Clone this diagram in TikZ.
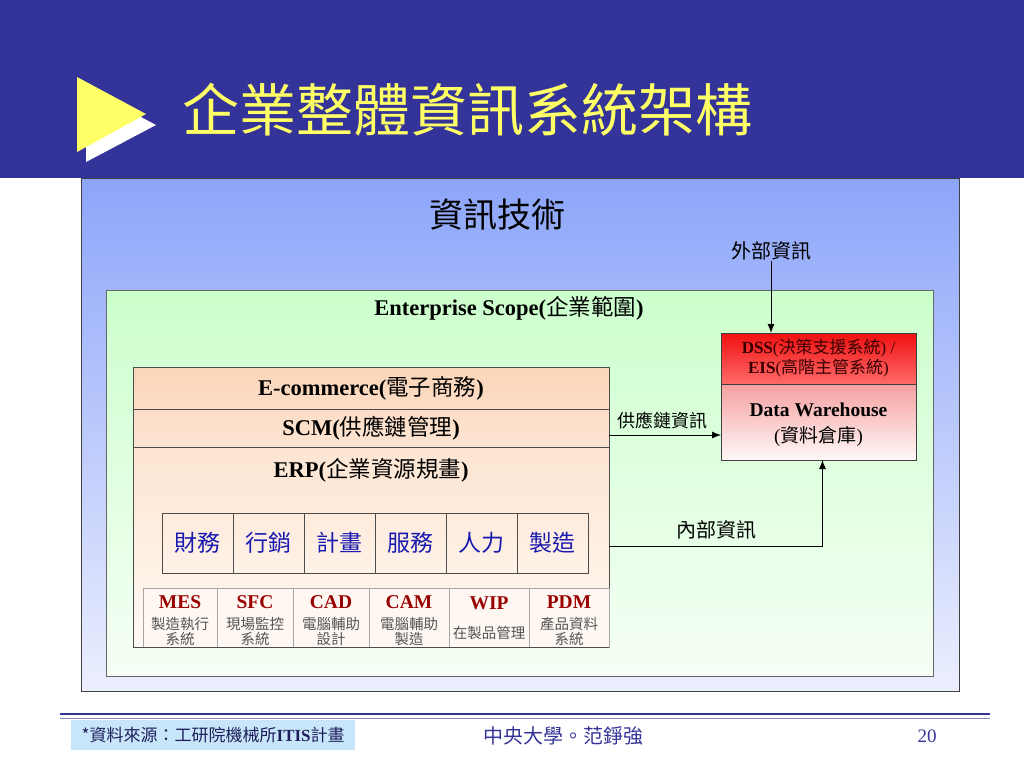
\documentclass[tikz,border=0pt]{standalone}
\usepackage{fontspec}
\setmainfont{Liberation Serif}
\newfontfamily\zhfont{Noto Sans CJK TC}
\newcommand\zh[1]{{\zhfont\mdseries #1}}
\usetikzlibrary{positioning,arrows.meta}
\definecolor{hdblue}{HTML}{333399}
\definecolor{tiyellow}{HTML}{FFFF66}
\definecolor{itblueA}{HTML}{8CA5F9}
\definecolor{itblueB}{HTML}{ECEFFE}
\definecolor{entgreenA}{HTML}{CCFFCC}
\definecolor{entgreenB}{HTML}{F6FFF6}
\definecolor{peachA}{HTML}{FBD5B8}
\definecolor{peachB}{HTML}{FCDDC6}
\definecolor{peachC}{HTML}{FDE5D2}
\definecolor{peachD}{HTML}{FFF9F3}
\definecolor{modblue}{HTML}{1A1AB0}
\definecolor{subred}{HTML}{990000}
\definecolor{subgrey}{HTML}{555555}
\definecolor{subfill}{HTML}{FFF8F2}
\definecolor{dssA}{HTML}{F01010}
\definecolor{dssB}{HTML}{FF6A6A}
\definecolor{dwA}{HTML}{F5A0A0}
\definecolor{dwB}{HTML}{FFF8F8}
\definecolor{dsstext}{HTML}{3A0000}
\definecolor{notefill}{HTML}{C8E6FA}
\tikzstyle{layer}=[draw=black!70,line width=0.8pt,minimum width=476pt,inner sep=0pt,outer sep=0pt,font=\bfseries\fontsize{22.5}{24}\selectfont]
\tikzstyle{mod}=[draw=black!70,line width=0.7pt,minimum width=71pt,minimum height=60pt,inner sep=0pt,outer sep=0pt,text=modblue,font=\zhfont\fontsize{23}{23}\selectfont]
\tikzstyle{subsys}=[draw=black!35,line width=0.6pt,fill=subfill,minimum height=59pt,inner sep=0pt,outer sep=0pt,align=center,text=subgrey,font=\zhfont\fontsize{14.5}{15}\selectfont]
\tikzstyle{dwbox}=[draw=black!75,line width=0.8pt,minimum width=195pt,inner sep=0pt,outer sep=0pt,align=center]
\tikzstyle{infolbl}=[font=\zhfont\fontsize{20}{20}\selectfont,inner sep=1pt]
\tikzstyle{arr}=[-{Latex[length=9pt,width=7pt]},line width=0.9pt]
\newcommand\subhd[1]{\rule{0pt}{20pt}\textcolor{subred}{\rmfamily\bfseries\fontsize{19.5}{19.5}\selectfont #1}}

\begin{document}
\begin{tikzpicture}[x=1pt,y=-1pt]
  \useasboundingbox (0,0) rectangle (1024,768);
  \fill[hdblue] (0,0) rectangle (1024,178);
  \fill[white] (86,88) -- (156,125) -- (86,162) -- cycle;
  \fill[tiyellow] (77,77) -- (146,114) -- (77,152) -- cycle;
  \node[anchor=west,text=tiyellow,font=\zhfont\fontsize{57}{59}\selectfont,inner sep=0pt] (title) at (182,110) {企業整體資訊系統架構};

  \node[draw=black!75,line width=1pt,top color=itblueA,bottom color=itblueB,minimum width=878pt,minimum height=513pt,anchor=north west,inner sep=0pt] (itbox) at (81,178) {};
  \node[font=\zhfont\fontsize{34}{34}\selectfont] (ittitle) at (497,215) {資訊技術};
  \node[infolbl] (ext) at (771,251) {外部資訊};

  \node[draw=black!60,line width=0.8pt,top color=entgreenA,bottom color=entgreenB,minimum width=827pt,minimum height=386pt,anchor=north west,inner sep=0pt] (ent) at (106,290) {};
  \node[font=\bfseries\fontsize{22.5}{24}\selectfont] (enttitle) at (509,308) {Enterprise Scope(\zh{企業範圍})};

  \node[dwbox,top color=dssA,bottom color=dssB,minimum height=51pt,anchor=north west,text=dsstext,font=\fontsize{17}{20}\selectfont] (dss) at (721,333) {\textbf{DSS}(\zh{決策支援系統}) /\\\textbf{EIS}(\zh{高階主管系統})};
  \node[dwbox,top color=dwA,bottom color=dwB,minimum height=76pt,below=0pt of dss,font=\fontsize{19}{26}\selectfont] (dw) {\rule{0pt}{20pt}\textbf{\fontsize{19.5}{26}\selectfont Data Warehouse}\\(\zh{資料倉庫})};

  \node[layer,top color=peachA,bottom color=peachB,minimum height=42pt,anchor=north west] (ecom) at (133,367) {E-commerce(\zh{電子商務})};
  \node[layer,top color=peachB,bottom color=peachC,minimum height=38pt,below=0pt of ecom] (scm) {SCM(\zh{供應鏈管理})};
  \node[layer,top color=peachC,bottom color=peachD,minimum height=200pt,below=0pt of scm] (erp) {};
  \node[font=\bfseries\fontsize{22.5}{24}\selectfont] (erptitle) at (371,470) {ERP(\zh{企業資源規畫})};

  \node[mod,anchor=north west] (m1) at (162,513) {財務};
  \node[mod,right=0pt of m1] (m2) {行銷};
  \node[mod,right=0pt of m2] (m3) {計畫};
  \node[mod,right=0pt of m3] (m4) {服務};
  \node[mod,right=0pt of m4] (m5) {人力};
  \node[mod,right=0pt of m5] (m6) {製造};

  \node[subsys,minimum width=74pt,anchor=north west] (s1) at (143,588) {\subhd{MES}\\[6pt]製造執行\\系統};
  \node[subsys,minimum width=76pt,right=0pt of s1] (s2) {\subhd{SFC}\\[6pt]現場監控\\系統};
  \node[subsys,minimum width=76pt,right=0pt of s2] (s3) {\subhd{CAD}\\[6pt]電腦輔助\\設計};
  \node[subsys,minimum width=80pt,right=0pt of s3] (s4) {\subhd{CAM}\\[6pt]電腦輔助\\製造};
  \node[subsys,minimum width=80pt,right=0pt of s4] (s5) {\subhd{WIP}\\[14pt]在製品管理\\[-8pt]\mbox{}};
  \node[subsys,minimum width=80pt,right=0pt of s5] (s6) {\subhd{PDM}\\[6pt]產品資料\\系統};
  \draw[black!70,line width=0.8pt] (erp.south west) -- (erp.south east);

  \draw[arr] (ext) -- (ext |- dss.north);
  \path ([yshift=-7pt]scm.east) coordinate (scmout);
  \draw[arr] (scmout) -- (scmout -| dw.west);
  \node[infolbl,font=\zhfont\fontsize{18}{18}\selectfont] (scminfo) at (662,421) {供應鏈資訊};
  \path ([yshift=-3pt]m6.east) coordinate (m6out) ([xshift=4pt]dw.south) coordinate (dwin);
  \draw[arr] (m6out -| erp.east) -| (dwin);
  \node[infolbl] (intinfo) at (716,530) {內部資訊};

  \draw[hdblue,line width=2.5pt] (60,714) -- (990,714);
  \draw[hdblue!60,line width=1pt] (60,718.5) -- (990,718.5);
  \node[fill=notefill,minimum width=284pt,minimum height=30pt,anchor=north west,inner sep=0pt,text=hdblue!60!black,font=\zhfont\fontsize{17}{17}\selectfont] (src) at (71,720) {*資料來源：工研院機械所{\rmfamily\bfseries ITIS}計畫};
  \node[text=hdblue,font=\zhfont\fontsize{20}{20}\selectfont] (school) at (563,736) {中央大學。范錚強};
  \node[text=hdblue,font=\fontsize{19}{19}\selectfont] (page) at (927,736) {20};
\end{tikzpicture}
\end{document}
